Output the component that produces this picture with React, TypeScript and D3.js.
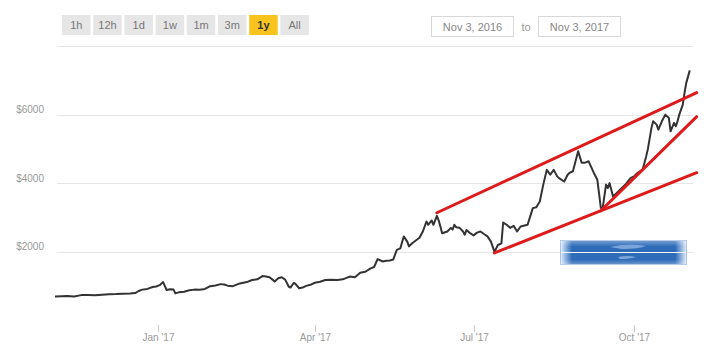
import React from "react";
import * as d3 from "d3";

// ---------- data ----------
const dates: string[] = [
  "2016-11-03","2016-11-07","2016-11-10","2016-11-14","2016-11-18","2016-11-22","2016-11-26","2016-11-30",
  "2016-12-04","2016-12-08","2016-12-12","2016-12-16","2016-12-19","2016-12-21","2016-12-23","2016-12-26",
  "2016-12-29","2016-12-31","2017-01-02","2017-01-04","2017-01-05","2017-01-06","2017-01-08","2017-01-10",
  "2017-01-11","2017-01-13","2017-01-16","2017-01-19","2017-01-22","2017-01-25","2017-01-28","2017-01-31",
  "2017-02-03","2017-02-06","2017-02-08","2017-02-10","2017-02-13","2017-02-17","2017-02-21","2017-02-24",
  "2017-02-27","2017-03-02","2017-03-04","2017-03-06","2017-03-09","2017-03-11","2017-03-13","2017-03-15",
  "2017-03-17","2017-03-18","2017-03-20","2017-03-21","2017-03-23","2017-03-25","2017-03-27","2017-03-30",
  "2017-04-01","2017-04-04","2017-04-07","2017-04-10","2017-04-14","2017-04-17","2017-04-21","2017-04-24",
  "2017-04-27","2017-04-30","2017-05-03","2017-05-05","2017-05-07","2017-05-10","2017-05-12","2017-05-14",
  "2017-05-16","2017-05-18","2017-05-20","2017-05-22","2017-05-24","2017-05-25","2017-05-27","2017-05-31",
  "2017-06-02","2017-06-04","2017-06-05","2017-06-07","2017-06-08","2017-06-10","2017-06-11","2017-06-12",
  "2017-06-13","2017-06-16","2017-06-18","2017-06-19","2017-06-20","2017-06-21","2017-06-23","2017-06-25",
  "2017-06-26","2017-06-27","2017-06-29","2017-07-01","2017-07-03","2017-07-05","2017-07-07","2017-07-09",
  "2017-07-11","2017-07-13","2017-07-15","2017-07-17","2017-07-18","2017-07-20","2017-07-22","2017-07-24",
  "2017-07-26","2017-07-28","2017-08-01","2017-08-04","2017-08-06","2017-08-08","2017-08-10","2017-08-12",
  "2017-08-14","2017-08-16","2017-08-18","2017-08-19","2017-08-22","2017-08-24","2017-08-25","2017-08-27",
  "2017-08-30","2017-09-01","2017-09-03","2017-09-05","2017-09-08","2017-09-10","2017-09-11","2017-09-12",
  "2017-09-13","2017-09-15","2017-09-16","2017-09-17","2017-09-19","2017-09-21","2017-09-23","2017-09-26",
  "2017-09-29","2017-10-01","2017-10-03","2017-10-06","2017-10-08","2017-10-09","2017-10-11","2017-10-12",
  "2017-10-14","2017-10-15","2017-10-17","2017-10-19","2017-10-21","2017-10-22","2017-10-24","2017-10-25",
  "2017-10-26","2017-10-27","2017-10-29","2017-10-30","2017-10-31","2017-11-02",
];
const prices: number[] = [
  700,705,712,700,740,745,735,750,
  768,770,780,785,800,860,900,920,
  975,990,1030,1120,1000,890,910,900,
  790,820,840,880,900,895,920,1000,
  1020,1060,1050,1015,1000,1080,1120,1180,
  1200,1295,1280,1260,1140,1230,1260,1190,
  990,960,1100,1060,940,960,1010,1050,
  1100,1130,1180,1190,1180,1200,1280,1260,
  1390,1420,1520,1560,1790,1720,1740,1750,
  1780,2060,2100,2450,2300,2160,2260,2410,
  2600,2885,2790,2915,2790,3050,2920,2740,
  2545,2595,2700,2650,2790,2720,2700,2595,
  2500,2640,2545,2480,2560,2595,2520,2450,
  2300,2000,2200,2250,2855,2790,2700,2760,
  2595,2740,2790,3275,3300,3470,3960,4390,
  4250,4390,4200,4150,4050,4250,4300,4350,
  4930,4600,4600,4640,4300,4100,3700,3280,
  3255,3960,3860,4005,3615,3713,3810,3956,
  4150,4200,4297,4400,4783,5000,5600,5805,
  5708,5562,5805,6000,5903,5514,5757,5660,
  5805,6000,6292,6633,6925,7290,
];

const gridValues: number[] = [2000, 4000, 6000, 8000];
const yLabelValues: number[] = [2000, 4000, 6000];
const xTickDates: string[] = ["2017-01-01", "2017-04-01", "2017-07-01", "2017-10-01"];
const xTickLabels: string[] = ["Jan '17", "Apr '17", "Jul '17", "Oct '17"];
const rangeButtons: string[] = ["1h", "12h", "1d", "1w", "1m", "3m", "1y", "All"];
const activeButton = "1y";
const fromLabel = "Nov 3, 2016";
const toLabel = "Nov 3, 2017";

// trend-line annotations: [startDate, startPrice, endDate, endPrice]
const trendStarts: string[] = ["2017-06-10", "2017-07-13", "2017-09-12"];
const trendStartPrices: number[] = [3140, 1970, 3200];
const trendEnds: string[] = ["2017-11-06", "2017-11-06", "2017-11-06"];
const trendEndPrices: number[] = [6640, 4307, 5940];

const parse = d3.timeParse("%Y-%m-%d");

export default function App() {
  const W = 707, H = 364;
  const x = d3.scaleTime()
    .domain([parse("2016-11-03")!, parse("2017-11-03")!])
    .range([55, 691.5]);
  const y = d3.scaleLinear().domain([0, 8000]).range([320.5, 46]);

  const pts = dates.map((d, i) => ({ d: parse(d)!, v: prices[i] }));
  const line = d3.line<{ d: Date; v: number }>()
    .x((p) => x(p.d))
    .y((p) => y(p.v))
    .curve(d3.curveLinear);

  const font = "Arial, 'Liberation Sans', Helvetica, sans-serif";
  const btnX0 = 62, btnStep = 31.2, btnW = 28.5, btnY = 15, btnH = 20;

  return (
    <svg width={W} height={H} style={{ position: "absolute", left: 0, top: 0, background: "#fff" }} fontFamily={font}>
      <defs>
        <linearGradient id="bluebox" x1="0" x2="1" y1="0" y2="0">
          <stop offset="0" stopColor="#e9f1fb" />
          <stop offset="0.04" stopColor="#8fb3e0" />
          <stop offset="0.09" stopColor="#2f6cb8" />
          <stop offset="0.91" stopColor="#2f6cb8" />
          <stop offset="0.96" stopColor="#8fb3e0" />
          <stop offset="1" stopColor="#e9f1fb" />
        </linearGradient>
        <linearGradient id="blueboxV" x1="0" x2="0" y1="0" y2="1">
          <stop offset="0" stopColor="#ffffff" stopOpacity="0.35" />
          <stop offset="0.25" stopColor="#ffffff" stopOpacity="0" />
          <stop offset="0.8" stopColor="#ffffff" stopOpacity="0" />
          <stop offset="1" stopColor="#ffffff" stopOpacity="0.3" />
        </linearGradient>
        <clipPath id="plotclip">
          <rect x={40} y={40} width={660} height={290} />
        </clipPath>
      </defs>

      {/* range buttons */}
      {rangeButtons.map((b, i) => {
        const active = b === activeButton;
        return (
          <g key={b}>
            <rect x={btnX0 + i * btnStep} y={btnY} width={btnW} height={btnH}
              fill={active ? "#f7c31c" : "#e6e6e6"} />
            <text x={btnX0 + i * btnStep + btnW / 2} y={btnY + 14} textAnchor="middle"
              fontSize={11} fill={active ? "#333" : "#777"} fontWeight={active ? "bold" : "normal"}>{b}</text>
          </g>
        );
      })}

      {/* date inputs */}
      <rect x={431.5} y={16.5} width={82} height={20} fill="#fff" stroke="#d8d8d8" />
      <text x={472.5} y={30.5} textAnchor="middle" fontSize={11} fill="#888">{fromLabel}</text>
      <text x={526} y={30.5} textAnchor="middle" fontSize={11} fill="#999">to</text>
      <rect x={538.5} y={16.5} width={82} height={20} fill="#fff" stroke="#d8d8d8" />
      <text x={579.5} y={30.5} textAnchor="middle" fontSize={11} fill="#888">{toLabel}</text>

      {/* grid */}
      {gridValues.map((g) => (
        <line key={g} x1={57} x2={693} y1={Math.round(y(g)) + 0.5} y2={Math.round(y(g)) + 0.5}
          stroke="#e6e6e6" strokeWidth={1} />
      ))}
      {yLabelValues.map((g) => (
        <text key={g} x={44} y={y(g) - 1.5} textAnchor="end" fontSize={10} fill="#999">${g}</text>
      ))}

      {/* x ticks */}
      {xTickDates.map((d, i) => {
        const xx = Math.round(x(parse(d)!)) + 0.5;
        return (
          <g key={d}>
            <line x1={xx} x2={xx} y1={325} y2={332} stroke="#ccc" />
            <text x={xx} y={341} textAnchor="middle" fontSize={10} fill="#999">{xTickLabels[i]}</text>
          </g>
        );
      })}

      {/* price line */}
      <path d={line(pts) || ""} fill="none" stroke="#333" strokeWidth={2} strokeLinejoin="round" />

      {/* blue decorative box */}
      <g>
        <rect x={560.5} y={240.5} width={126} height={24} fill="url(#bluebox)" stroke="#a9c3e6" strokeWidth={1} />
        <rect x={560.5} y={240.5} width={126} height={24} fill="url(#blueboxV)" />
        <line x1={561} x2={686} y1={Math.round(y(2000)) + 0.5} y2={Math.round(y(2000)) + 0.5} stroke="#f4f8fd" strokeWidth={1.2} />
        <path d="M 610 247 Q 628 243 646 246 Q 640 249 622 249 Z" fill="#8db4e3" opacity={0.8} />
        <path d="M 618 257 Q 627 255 636 257 Q 630 259 620 259 Z" fill="#8db4e3" opacity={0.8} />
      </g>

      {/* trend lines */}
      <g clipPath="url(#plotclip)">
        {trendStarts.map((s, i) => (
          <line key={s}
            x1={x(parse(s)!)} y1={y(trendStartPrices[i])}
            x2={x(parse(trendEnds[i])!)} y2={y(trendEndPrices[i])}
            stroke="#de1a1a" strokeWidth={3} strokeLinecap="round" />
        ))}
      </g>
    </svg>
  );
}
